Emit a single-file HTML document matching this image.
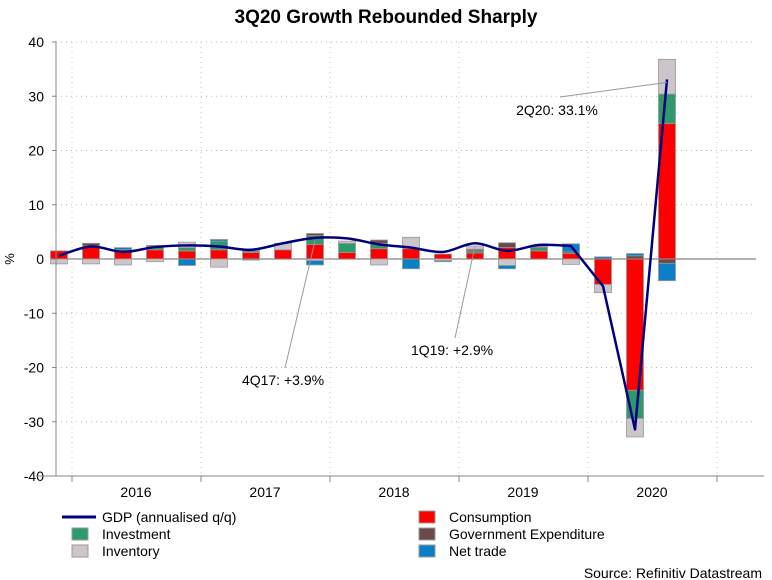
<!DOCTYPE html>
<html><head><meta charset="utf-8">
<style>
body{margin:0;background:#fff;}
svg{display:block;font-family:"Liberation Sans",Arial,sans-serif;}
</style></head>
<body>
<svg id="c" width="772" height="580" viewBox="0 0 772 580">
<text x="386" y="23" text-anchor="middle" font-size="19" font-weight="bold">3Q20 Growth Rebounded Sharply</text>
<text transform="translate(14,259) rotate(-90)" text-anchor="middle" font-size="13">%</text>
<g id="grid"></g><g id="bars"></g><g id="line"></g><g id="axes"></g><g id="ann"></g>
<g font-size="14">
<line x1="62" y1="517" x2="96" y2="517" stroke="#00007f" stroke-width="3"/>
<text x="102" y="522">GDP (annualised q/q)</text>
<rect x="72" y="528" width="16" height="12" fill="#2e9a6c" stroke="#999"/>
<text x="102" y="539">Investment</text>
<rect x="72" y="545" width="16" height="12" fill="#ccc6cc" stroke="#999"/>
<text x="102" y="556">Inventory</text>
<rect x="419" y="511" width="16" height="12" fill="#ff0000" stroke="#999"/>
<text x="449" y="522">Consumption</text>
<rect x="419" y="528" width="16" height="12" fill="#6b4a4a" stroke="#999"/>
<text x="449" y="539">Government Expenditure</text>
<rect x="419" y="545" width="16" height="12" fill="#0a7fc7" stroke="#999"/>
<text x="449" y="556">Net trade</text>
</g>
<text x="762" y="578" text-anchor="end" font-size="14">Source: Refinitiv Datastream</text>
</svg>
<script>
const quarters=["4Q15","1Q16","2Q16","3Q16","4Q16","1Q17","2Q17","3Q17","4Q17","1Q18","2Q18","3Q18","4Q18","1Q19","2Q19","3Q19","4Q19","1Q20","2Q20","3Q20"];
const gdp=[0.6,2.3,1.3,2.2,2.5,2.3,1.7,2.9,3.9,3.8,2.7,2.1,1.3,2.9,1.5,2.6,2.4,-5.0,-31.4,33.1];
const consumption=[1.5,2.4,1.7,1.7,1.5,1.7,1.2,1.7,2.7,1.2,1.9,1.9,0.9,1.1,2.1,1.5,1.0,-4.7,-24.2,25.0];
const investment=[0,0,0,0.6,0.6,1.6,0.3,0,1.6,1.7,1.0,0,0,0.4,0,0.6,0,0,-5.2,5.4];
const government=[0,0.5,0,0.2,0,0,0,0,0.4,0,0.6,0,0,0.3,0.9,0.2,0.3,0,0.6,-0.8];
const inventory=[-0.9,-0.9,-1.1,-0.5,1.0,-1.5,0.3,1.2,-0.3,0.4,-1.1,2.1,-0.3,0.6,-1.2,0,-1.0,-1.5,-3.4,6.4];
const netTrade=[0,0,0.4,0,-1.2,0.3,-0.2,0,-0.8,0,0,-1.8,-0.2,0,-0.6,0,1.5,0.4,0.4,-3.2];
const yTicks=[40,30,20,10,0,-10,-20,-30,-40];
const years=["2016","2017","2018","2019","2020"];
const NS="http://www.w3.org/2000/svg";
const y=v=>259-v*5.425;
const x=i=>59+32.0*i;
function mk(p,t,a){const e=document.createElementNS(NS,t);for(const k in a)e.setAttribute(k,a[k]);p.appendChild(e);return e;}
const grid=document.getElementById('grid'),axes=document.getElementById('axes'),bars=document.getElementById('bars');
yTicks.forEach(v=>{
  if(v!==0&&v!==-40){const g=mk(grid,'line',{x1:56,x2:756,y1:y(v),y2:y(v),stroke:'#9c9',"stroke-dasharray":"1,4"});
  
  }
  const t=mk(axes,'text',{x:44,y:y(v)+5,"text-anchor":"end","font-size":14});t.textContent=v;
  
  
  mk(axes,'line',{x1:52,x2:56,y1:y(v),y2:y(v),stroke:'#888'});
});
for(let k=0;k<6;k++){const gx=72+129*k;
  const g=mk(grid,'line',{x1:gx,x2:gx,y1:42,y2:476,stroke:'#cc9',"stroke-dasharray":"1,4"});
  
  
  mk(axes,'line',{x1:gx,x2:gx,y1:476,y2:482,stroke:'#888'});
}
years.forEach((yr,k)=>{const t=mk(axes,'text',{x:136+129*k,y:497,"text-anchor":"middle","font-size":14});t.textContent=yr;
  
  });
mk(axes,'line',{x1:56,x2:56,y1:42,y2:476,stroke:'#888'});
mk(axes,'line',{x1:36,x2:764,y1:476,y2:476,stroke:'#888'});
const zl=mk(grid,'line',{x1:56,x2:756,y1:259,y2:259,stroke:'#999',"stroke-width":1.5});


const series=[[consumption,'#ff0000','consumption'],[investment,'#2e9a6c','investment'],[government,'#6b4a4a','government'],[inventory,'#ccc6cc','inventory'],[netTrade,'#0a7fc7','net-trade']];
quarters.forEach((q,i)=>{let pos=0,neg=0;
  series.forEach(([arr,col,nm])=>{const v=arr[i];if(!v)return;let a,b;
    if(v>0){a=pos;b=pos+v;pos=b;}else{a=neg;b=neg+v;neg=b;}
    const r=mk(bars,'rect',{x:x(i)-8.5,width:17,y:Math.min(y(a),y(b)),height:Math.abs(y(a)-y(b)),fill:col,stroke:'#999',"stroke-width":0.8});
    
    
  });
});
// smooth (Catmull-Rom) up to index 16, straight afterwards
const P=gdp.map((v,i)=>[x(i),y(v)]);
let d='M'+P[0][0]+','+P[0][1];
for(let i=0;i<P.length-1;i++){
  if(i<16){const p0=P[Math.max(0,i-1)],p1=P[i],p2=P[i+1],p3=P[Math.min(16,i+2)];
    const c1=[p1[0]+(p2[0]-p0[0])/6,p1[1]+(p2[1]-p0[1])/6],c2=[p2[0]-(p3[0]-p1[0])/6,p2[1]-(p3[1]-p1[1])/6];
    d+=' C'+c1+' '+c2+' '+p2;}
  else d+=' L'+P[i+1];
}
const pl=mk(document.getElementById('line'),'path',{d:d,fill:'none',stroke:'#00007f',"stroke-width":2.5,"stroke-linejoin":"round"});


const ann=document.getElementById('ann');
[[19,'2Q20: 33.1%',560,97,557,115],[8,'4Q17: +3.9%',285,368,283,385],[13,'1Q19: +2.9%',455,338,452,355]].forEach(([i,txt,lx,ly,tx,ty])=>{
  mk(ann,'line',{x1:lx,y1:ly,x2:x(i),y2:y(gdp[i])+3,stroke:'#999'});
  const t=mk(ann,'text',{x:tx,y:ty,"text-anchor":"middle","font-size":14});t.textContent=txt;
  
  
});
</script>
</body></html>
